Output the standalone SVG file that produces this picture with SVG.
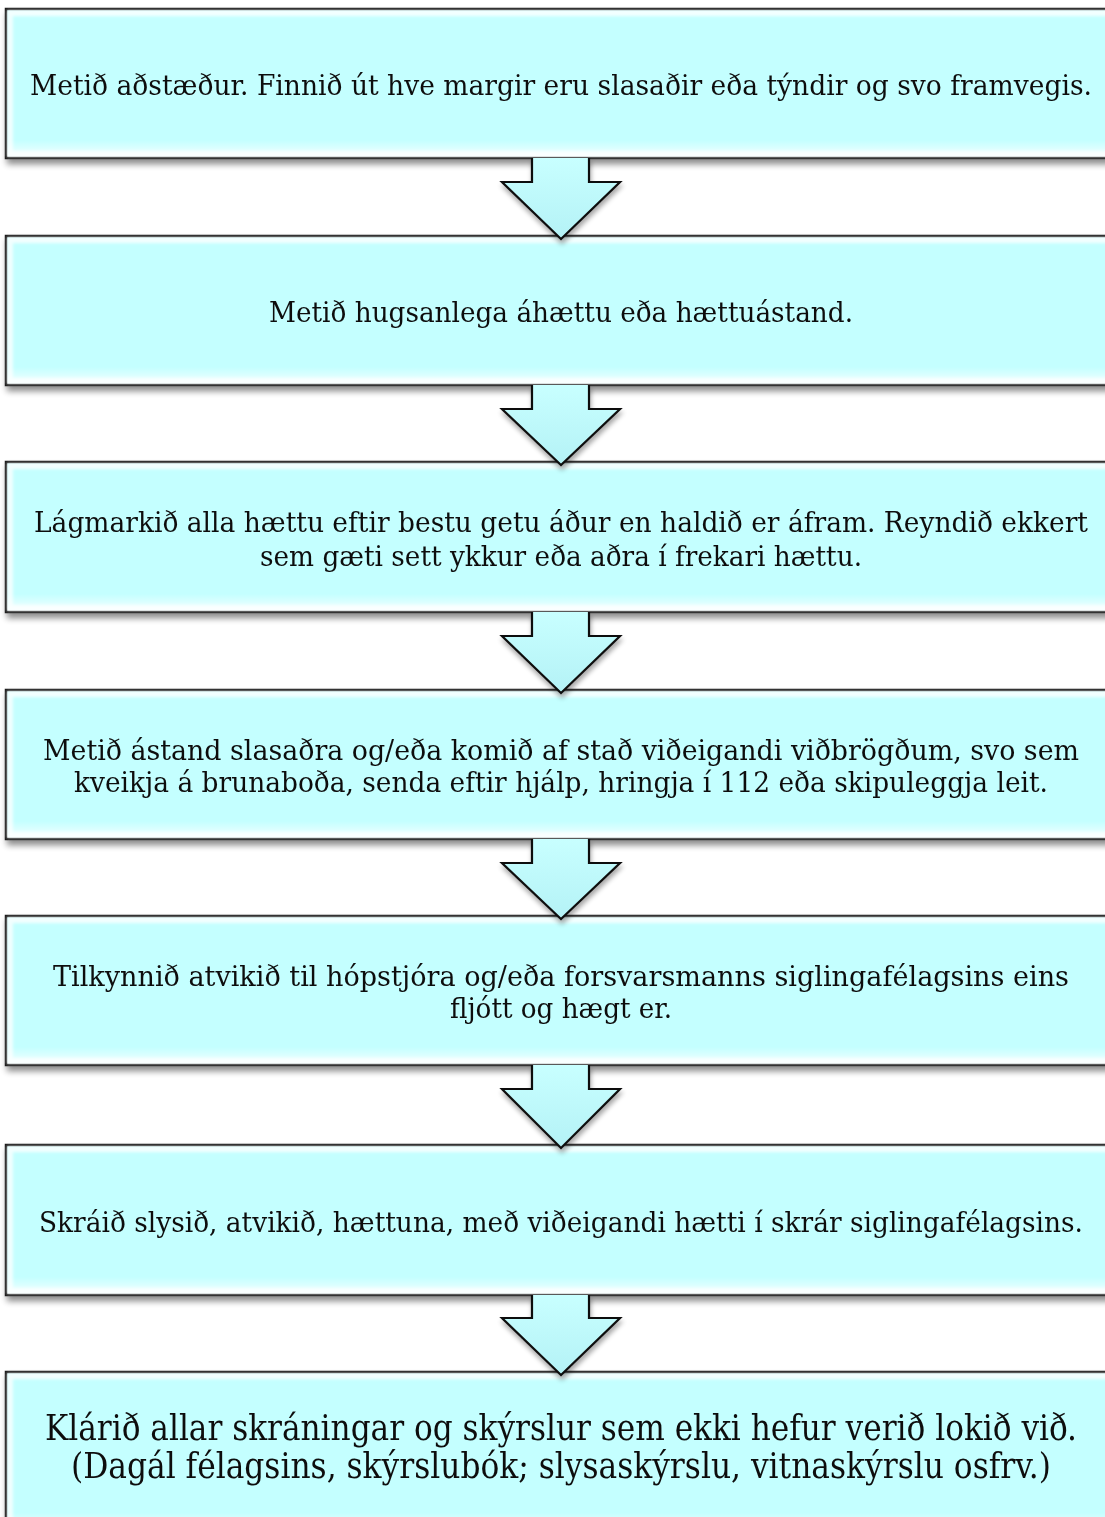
<svg xmlns="http://www.w3.org/2000/svg" width="1105" height="1517" viewBox="0 0 1105 1517">
<style>
.box{fill:url(#boxfill);stroke:#1a1a1a;stroke-width:2.5}
.bevel{fill:none;stroke:#ffffff;stroke-opacity:0.75;stroke-width:6;filter:url(#soft)}
.t{font-family:"DejaVu Serif Condensed","DejaVu Serif","Liberation Serif",serif;font-size:28px;fill:#111;text-anchor:middle}
.tb{font-family:"DejaVu Serif Condensed","DejaVu Serif","Liberation Serif",serif;font-size:35px;fill:#111;text-anchor:middle}
.afill{fill:url(#arrowfill)}
.aline{fill:none;stroke:#111;stroke-width:2.2;stroke-linejoin:miter}
</style>
<defs>
<linearGradient id="boxfill" x1="0" y1="0" x2="0" y2="1">
<stop offset="0" stop-color="#d8ffff"/>
<stop offset="0.06" stop-color="#c4ffff"/>
<stop offset="0.88" stop-color="#c4ffff"/>
<stop offset="0.97" stop-color="#eaffff"/>
<stop offset="1" stop-color="#f6ffff"/>
</linearGradient>
<linearGradient id="arrowfill" x1="0" y1="0" x2="0" y2="1">
<stop offset="0" stop-color="#c8ffff"/>
<stop offset="1" stop-color="#b4f2f6"/>
</linearGradient>
<filter id="shadow" x="-5%" y="-10%" width="110%" height="130%">
<feGaussianBlur in="SourceAlpha" stdDeviation="3"/>
<feOffset dx="2" dy="5" result="b"/>
<feComponentTransfer><feFuncA type="linear" slope="0.45"/></feComponentTransfer>
<feMerge><feMergeNode/><feMergeNode in="SourceGraphic"/></feMerge>
</filter>
<filter id="soft"><feGaussianBlur stdDeviation="1.5"/></filter>
<filter id="ashadow" x="-20%" y="-20%" width="140%" height="140%">
<feGaussianBlur in="SourceAlpha" stdDeviation="2.5"/>
<feOffset dx="1" dy="4"/>
<feComponentTransfer><feFuncA type="linear" slope="0.35"/></feComponentTransfer>
<feMerge><feMergeNode/><feMergeNode in="SourceGraphic"/></feMerge>
</filter>
</defs>

<g id="node1" filter="url(#shadow)">
<rect class="box" x="6" y="9" width="1110" height="149"/>
<rect class="bevel" x="10" y="13" width="1110" height="141"/>
<text class="t" x="561" y="95" textLength="1062" lengthAdjust="spacingAndGlyphs">Metið aðstæður. Finnið út hve margir eru slasaðir eða týndir og svo framvegis.</text>
</g>
<g id="node2" filter="url(#shadow)">
<rect class="box" x="6" y="236" width="1110" height="149"/>
<rect class="bevel" x="10" y="240" width="1110" height="141"/>
<text class="t" x="561" y="322" textLength="584" lengthAdjust="spacingAndGlyphs">Metið hugsanlega áhættu eða hættuástand.</text>
</g>
<g id="node3" filter="url(#shadow)">
<rect class="box" x="6" y="462" width="1110" height="150"/>
<rect class="bevel" x="10" y="466" width="1110" height="142"/>
<text class="t" x="561" y="532" textLength="1054" lengthAdjust="spacingAndGlyphs">Lágmarkið alla hættu eftir bestu getu áður en haldið er áfram. Reyndið ekkert</text>
<text class="t" x="561" y="566" textLength="602" lengthAdjust="spacingAndGlyphs">sem gæti sett ykkur eða aðra í frekari hættu.</text>
</g>
<g id="node4" filter="url(#shadow)">
<rect class="box" x="6" y="690" width="1110" height="149"/>
<rect class="bevel" x="10" y="694" width="1110" height="141"/>
<text class="t" x="561" y="760" textLength="1036" lengthAdjust="spacingAndGlyphs">Metið ástand slasaðra og/eða komið af stað viðeigandi viðbrögðum, svo sem</text>
<text class="t" x="561" y="792" textLength="974" lengthAdjust="spacingAndGlyphs">kveikja á brunaboða, senda eftir hjálp, hringja í 112 eða skipuleggja leit.</text>
</g>
<g id="node5" filter="url(#shadow)">
<rect class="box" x="6" y="916" width="1110" height="149"/>
<rect class="bevel" x="10" y="920" width="1110" height="141"/>
<text class="t" x="561" y="986" textLength="1016" lengthAdjust="spacingAndGlyphs">Tilkynnið atvikið til hópstjóra og/eða forsvarsmanns siglingafélagsins eins</text>
<text class="t" x="561" y="1018" textLength="222" lengthAdjust="spacingAndGlyphs">fljótt og hægt er.</text>
</g>
<g id="node6" filter="url(#shadow)">
<rect class="box" x="6" y="1145" width="1110" height="150"/>
<rect class="bevel" x="10" y="1149" width="1110" height="142"/>
<text class="t" x="561" y="1232" textLength="1044" lengthAdjust="spacingAndGlyphs">Skráið slysið, atvikið, hættuna, með viðeigandi hætti í skrár siglingafélagsins.</text>
</g>
<g id="node7" filter="url(#shadow)">
<rect class="box" x="6" y="1372" width="1110" height="160"/>
<rect class="bevel" x="10" y="1376" width="1110" height="160"/>
<text class="tb" x="561" y="1440" textLength="1032" lengthAdjust="spacingAndGlyphs">Klárið allar skráningar og skýrslur sem ekki hefur verið lokið við.</text>
<text class="tb" x="561" y="1478" textLength="980" lengthAdjust="spacingAndGlyphs">(Dagál félagsins, skýrslubók; slysaskýrslu, vitnaskýrslu osfrv.)</text>
</g>

<g id="connectors" filter="url(#ashadow)">
<g transform="translate(0,158)">
<path class="afill" d="M532,0 L589,0 L589,24 L620,24 L561,81 L502,24 L532,24 Z"/>
<path class="aline" d="M532,0 L532,24 L502,24 L561,81 L620,24 L589,24 L589,0"/>
</g>
<g transform="translate(0,385)">
<path class="afill" d="M532,0 L589,0 L589,24 L620,24 L561,80 L502,24 L532,24 Z"/>
<path class="aline" d="M532,0 L532,24 L502,24 L561,80 L620,24 L589,24 L589,0"/>
</g>
<g transform="translate(0,612)">
<path class="afill" d="M532,0 L589,0 L589,24 L620,24 L561,81 L502,24 L532,24 Z"/>
<path class="aline" d="M532,0 L532,24 L502,24 L561,81 L620,24 L589,24 L589,0"/>
</g>
<g transform="translate(0,839)">
<path class="afill" d="M532,0 L589,0 L589,24 L620,24 L561,80 L502,24 L532,24 Z"/>
<path class="aline" d="M532,0 L532,24 L502,24 L561,80 L620,24 L589,24 L589,0"/>
</g>
<g transform="translate(0,1065)">
<path class="afill" d="M532,0 L589,0 L589,24 L620,24 L561,83 L502,24 L532,24 Z"/>
<path class="aline" d="M532,0 L532,24 L502,24 L561,83 L620,24 L589,24 L589,0"/>
</g>
<g transform="translate(0,1295)">
<path class="afill" d="M532,0 L589,0 L589,23 L620,23 L561,80 L502,23 L532,23 Z"/>
<path class="aline" d="M532,0 L532,23 L502,23 L561,80 L620,23 L589,23 L589,0"/>
</g>
</g>
</svg>
